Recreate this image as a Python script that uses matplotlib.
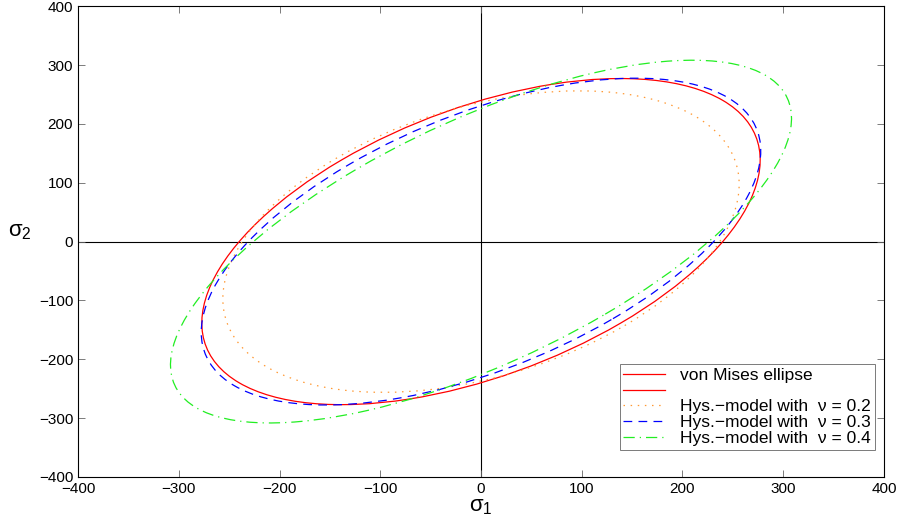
import numpy as np
import matplotlib
matplotlib.use("Agg")
import matplotlib.pyplot as plt
from matplotlib.patches import Ellipse
from matplotlib.lines import Line2D

# Yield loci of the form  s1^2 - 2*k*s1*s2 + s2^2 = c^2
# c: intercept on the stress axes, k: coupling coefficient
labels = ["von Mises ellipse", "", "Hys.\u2212model with  \u03bd = 0.2",
          "Hys.\u2212model with  \u03bd = 0.3", "Hys.\u2212model with  \u03bd = 0.4"]
intercepts = [240.0, 237.0, 231.0, 226.0]
couplings = [0.5, 0.38, 0.555, 0.68]
colors = ["#ff0000", "#ff9933", "#0000ff", "#22ee22"]
styles = ["-", (0, (1.2, 4.5)), (0, (7, 5)), (0, (9, 4, 1, 4))]

xticks = [-400, -300, -200, -100, 0, 100, 200, 300, 400]
yticks = [-400, -300, -200, -100, 0, 100, 200, 300, 400]

plt.rcParams["font.family"] = ["Liberation Sans", "DejaVu Sans"]
fig = plt.figure(figsize=(9.01, 5.19), dpi=100)
ax = fig.add_axes([0.0866, 0.081, 0.8945, 0.907])

ax.axhline(0, color="black", lw=0.8, zorder=1)
ax.axvline(0, color="black", lw=0.8, zorder=1)

for c, k, col, ls in zip(intercepts, couplings, colors, styles):
    a = c / np.sqrt(1 - k)   # semi-axis along the diagonal
    b = c / np.sqrt(1 + k)   # semi-axis across the diagonal
    ax.add_patch(Ellipse((0, 0), 2 * a, 2 * b, angle=45, fill=False,
                         edgecolor=col, linestyle=ls, lw=0.9, zorder=2))

handles = [Line2D([], [], color=colors[0], lw=0.9, ls="-"),
           Line2D([], [], color=colors[0], lw=0.9, ls="-")]
handles += [Line2D([], [], color=col, lw=0.9, ls=ls)
            for col, ls in zip(colors[1:], styles[1:])]
leg = ax.legend(handles, labels, loc="lower right", bbox_to_anchor=(0.9885, 0.058),
                fontsize=12.5, frameon=True, fancybox=False, edgecolor="0.35",
                handlelength=2.4, handletextpad=0.9, borderpad=0.2,
                labelspacing=0.04, borderaxespad=0)
leg.get_frame().set_linewidth(0.7)

ax.set_xlim(-400, 400)
ax.set_ylim(-400, 400)
ax.set_xticks(xticks)
ax.set_yticks(yticks)
ax.set_xticklabels([str(v).replace("-", "\u2212") for v in xticks])
ax.set_yticklabels([str(v).replace("-", "\u2212") for v in yticks])
ax.tick_params(direction="in", top=True, right=True, length=5, width=0.6,
               color="0.4", labelsize=11)
for s in ax.spines.values():
    s.set_linewidth(0.8)

ax.set_xlabel("$\\mathregular{\u03c3_1}$", fontsize=16, labelpad=0)
ax.set_ylabel("$\\mathregular{\u03c3_2}$", fontsize=16, rotation=0)
ax.yaxis.set_label_coords(-0.072, 0.5)

fig.savefig("out.png", dpi=100)
